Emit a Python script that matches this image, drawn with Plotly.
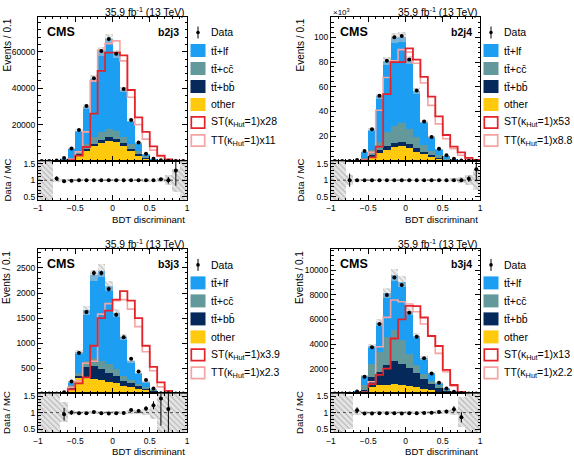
import numpy as np
import plotly.graph_objects as go

# ---------------- data ----------------
bin_edges = [-1.0, -0.9, -0.8, -0.7, -0.6, -0.5, -0.4, -0.3, -0.2, -0.1, 0.0,
             0.1, 0.2, 0.3, 0.4, 0.5, 0.6, 0.7, 0.8, 0.9, 1.0]
x_tick_vals = [-1, -0.5, 0, 0.5, 1]
x_tick_text = ["\u22121", "\u22120.5", "0", "0.5", "1"]
ratio_tick_vals = [0.5, 1, 1.5]
ratio_tick_text = ["0.5", "1", "1.5"]

categories = ["b2j3", "b2j4", "b3j3", "b3j4"]
st_scale = ["28", "53", "3.9", "13"]
tt_scale = ["11", "8.8", "2.3", "2.2"]

# b2j3
b2j3_data = [0, 0, 300, 1600, 6800, 17000, 30200, 45500, 60500, 67000, 59000, 39500, 22500, 10200, 4000, 1300, 420, 100, 8, 0]
b2j3_other = [0, 0, 20, 400, 1400, 3700, 5900, 8300, 9900, 11400, 10600, 8400, 5500, 3500, 1800, 700, 250, 70, 5, 0]
b2j3_bb = [0, 0, 5, 50, 200, 500, 900, 1300, 1700, 1900, 1900, 1600, 1100, 700, 350, 120, 40, 10, 0.5, 0]
b2j3_cc = [0, 0, 15, 150, 600, 1700, 2700, 3600, 4700, 4500, 4000, 3500, 3000, 1700, 1000, 250, 60, 10, 0.5, 0]
b2j3_lf = [0, 0, 245, 1050, 4700, 11100, 20700, 32300, 44200, 49500, 42500, 26000, 12900, 4300, 850, 230, 60, 10, 0.2, 0]
b2j3_st = [0, 0, 0, 0, 500, 3000, 7700, 26000, 49500, 59500, 59500, 58000, 39000, 24000, 16000, 8000, 3000, 900, 200, 0]
b2j3_tt = [0, 0, 0, 0, 1000, 5000, 16000, 44000, 61000, 64500, 66000, 55000, 35000, 20000, 12000, 6000, 2500, 700, 100, 0]
b2j3_unc = [9, 9, 0.06, 0.05, 0.04, 0.04, 0.04, 0.04, 0.04, 0.04, 0.04, 0.04, 0.04, 0.04, 0.05, 0.05, 0.07, 0.15, 0.35, 9]

# b2j4
b2j4_data = [0, 0, 25, 800, 8000, 25700, 52700, 81000, 100000, 101000, 82000, 57000, 32000, 19500, 10000, 4600, 1800, 500, 125, 16]
b2j4_other = [0, 0, 3, 150, 1900, 4000, 6800, 9500, 11400, 12200, 10800, 7800, 5700, 3800, 2200, 1100, 500, 200, 60, 8]
b2j4_bb = [0, 0, 1, 30, 300, 1400, 2100, 2700, 3200, 3200, 3500, 3000, 1900, 1100, 800, 350, 150, 50, 15, 1]
b2j4_cc = [0, 0, 4, 100, 1000, 4100, 7100, 11300, 13800, 15600, 12200, 9200, 5900, 3700, 1900, 950, 250, 80, 20, 1]
b2j4_lf = [0, 0, 17, 520, 4800, 16200, 36700, 57500, 71600, 70000, 55500, 37000, 18500, 10900, 5100, 2200, 900, 170, 25, 2]
b2j4_st = [0, 0, 0, 0, 500, 3000, 11600, 54000, 80000, 80000, 91000, 82000, 68000, 52000, 36000, 21000, 11600, 7000, 2500, 800]
b2j4_tt = [0, 0, 0, 0, 1000, 7000, 41000, 67500, 81000, 90000, 88000, 79000, 63000, 45000, 30000, 18000, 10000, 4600, 1300, 0]
b2j4_unc = [9, 9, 0.15, 0.05, 0.04, 0.04, 0.04, 0.04, 0.04, 0.04, 0.04, 0.04, 0.04, 0.04, 0.04, 0.05, 0.06, 0.1, 0.15, 0.3]

# b3j3
b3j3_data = [0, 0, 0, 25, 235, 807, 1622, 2400, 2400, 2080, 1570, 1120, 690, 435, 268, 100, 3, 1, 0, 0]
b3j3_other = [0, 0, 0, 10, 100, 320, 320, 285, 265, 232, 200, 153, 120, 86, 60, 35, 1.5, 0.7, 0, 0]
b3j3_bb = [0, 0, 0, 2, 20, 30, 200, 266, 220, 186, 139, 99, 80, 67, 46, 25, 0.3, 0.1, 0, 0]
b3j3_cc = [0, 0, 0, 4, 40, 68, 132, 166, 165, 180, 146, 100, 66, 33, 27, 10, 0.2, 0.05, 0, 0]
b3j3_lf = [0, 0, 0, 10.3, 75, 405, 1003, 1636, 1799, 1546, 1117, 779, 373, 228, 106, 12, 0.1, 0.05, 0, 0]
b3j3_st = [0, 0, 0, 0, 80, 200, 320, 950, 1500, 1650, 1870, 2040, 1850, 1500, 950, 530, 220, 50, 0, 0]
b3j3_tt = [0, 0, 0, 0, 120, 250, 600, 640, 1580, 1790, 1850, 1870, 1680, 1330, 830, 450, 130, 20, 0, 0]
b3j3_unc = [9, 9, 9, 0.3, 0.08, 0.05, 0.05, 0.05, 0.05, 0.05, 0.05, 0.05, 0.06, 0.07, 0.1, 0.2, 0.6, 9, 9, 9]

# b3j4
b3j4_data = [0, 0, 0, 150, 1350, 3730, 5620, 7970, 9400, 8780, 6540, 4600, 2840, 1620, 865, 405, 140, 30, 0, 0]
b3j4_other = [0, 0, 0, 20, 160, 540, 650, 700, 730, 700, 620, 490, 380, 270, 160, 100, 40, 10, 0, 0]
b3j4_bb = [0, 0, 0, 20, 160, 810, 1100, 1600, 1890, 1730, 1460, 1190, 810, 490, 270, 140, 40, 8, 0, 0]
b3j4_cc = [0, 0, 0, 30, 355, 1080, 1630, 2290, 2520, 1890, 1110, 620, 380, 270, 220, 110, 30, 7, 0, 0]
b3j4_lf = [0, 0, 0, 70, 717, 1415, 2355, 3543, 4452, 4732, 3483, 2394, 1299, 593, 198, 43, 17, 10, 0, 0]
b3j4_st = [0, 0, 0, 0, 80, 750, 1500, 2000, 4450, 6000, 7100, 7080, 6150, 4650, 3840, 1900, 680, 130, 0, 0]
b3j4_tt = [0, 0, 0, 0, 80, 950, 3780, 6160, 7570, 7430, 7240, 6620, 5620, 4650, 3240, 1750, 600, 130, 0, 0]
b3j4_unc = [9, 9, 0.5, 0.08, 0.05, 0.05, 0.05, 0.05, 0.05, 0.05, 0.05, 0.05, 0.05, 0.05, 0.06, 0.07, 0.1, 0.45, 9, 9]

y_tick_vals = {
    "b2j3": [20000, 40000, 60000],
    "b2j4": [20000, 40000, 60000, 80000, 100000],
    "b3j3": [500, 1000, 1500, 2000, 2500],
    "b3j4": [2000, 4000, 6000, 8000, 10000],
}
y_tick_text = {
    "b2j3": ["20000", "40000", "60000"],
    "b2j4": ["20", "40", "60", "80", "100"],
    "b3j3": ["500", "1000", "1500", "2000", "2500"],
    "b3j4": ["2000", "4000", "6000", "8000", "10000"],
}

# ---------------- styling / geometry ----------------
W, H = 574, 461
FONT = "Liberation Sans, Arial, Helvetica, sans-serif"
C_LF = "#1c9ef2"
C_CC = "#63999b"
C_BB = "#05295b"
C_OT = "#ffc90e"
C_ST = "#e3242b"
C_TT = "#f6a3a3"

COLS = [(38.0, 187.0), (331.0, 480.0)]
ROWS = [(16.5, 161.0, 200.0), (248.9, 393.4, 432.4)]
YMAX = {"b2j3": 79400, "b2j4": 116800, "b3j3": 2880, "b3j4": 11710}
YMINOR = {"b2j3": 4000, "b2j4": 4000, "b3j3": 100, "b3j4": 400}

panels = {
    "b2j3": (b2j3_data, b2j3_other, b2j3_bb, b2j3_cc, b2j3_lf, b2j3_st, b2j3_tt, b2j3_unc),
    "b2j4": (b2j4_data, b2j4_other, b2j4_bb, b2j4_cc, b2j4_lf, b2j4_st, b2j4_tt, b2j4_unc),
    "b3j3": (b3j3_data, b3j3_other, b3j3_bb, b3j3_cc, b3j3_lf, b3j3_st, b3j3_tt, b3j3_unc),
    "b3j4": (b3j4_data, b3j4_other, b3j4_bb, b3j4_cc, b3j4_lf, b3j4_st, b3j4_tt, b3j4_unc),
}


def PX(px):
    return px / W


def PY(py):
    return 1 - py / H


edges = np.array(bin_edges)
centers = (edges[:-1] + edges[1:]) / 2

fig = go.Figure()
annotations = []
shapes = []
axes = {}

for i, cat in enumerate(categories):
    data, oth, bb, cc, lf, st, tt, unc = [np.array(a, dtype=float) for a in panels[cat]]
    col, row = i % 2, i // 2
    xl, xr = COLS[col]
    yt, ym, yb = ROWS[row]
    nm, nr = 2 * i + 1, 2 * i + 2
    xm = "x" if nm == 1 else f"x{nm}"
    ymn = "y" if nm == 1 else f"y{nm}"
    xr_name, yr_name = f"x{nr}", f"y{nr}"

    # stacked MC
    cum = np.zeros(20)
    for comp, color in [(oth, C_OT), (bb, C_BB), (cc, C_CC), (lf, C_LF)]:
        fig.add_trace(go.Bar(x=centers, y=comp, base=cum.copy(), width=0.1,
                             marker=dict(color=color, line=dict(width=0)),
                             xaxis=xm, yaxis=ymn, showlegend=False, hoverinfo="skip"))
        cum = cum + comp
    total = cum
    u_main = np.minimum(unc, 1.0)
    lo = np.maximum(total * (1 - u_main), 0)
    hi = total * (1 + u_main)
    fig.add_trace(go.Bar(x=centers, y=hi - lo, base=lo, width=0.1,
                         marker=dict(color="rgba(215,215,215,0.45)", line=dict(width=0),
                                     pattern=dict(shape="\\", fgcolor="#9a9a9a", size=4,
                                                  solidity=0.3, fillmode="overlay")),
                         xaxis=xm, yaxis=ymn, showlegend=False, hoverinfo="skip"))
    # signals
    for sig, color, wdt in [(tt, C_TT, 1.6), (st, C_ST, 1.8)]:
        fig.add_trace(go.Scatter(x=edges, y=np.append(sig, sig[-1]), mode="lines",
                                 line=dict(shape="hv", color=color, width=wdt),
                                 xaxis=xm, yaxis=ymn, showlegend=False, hoverinfo="skip"))
    # data
    fig.add_trace(go.Scatter(x=centers, y=data, mode="markers",
                             marker=dict(color="black", size=4),
                             error_y=dict(type="data", array=np.sqrt(data), color="black",
                                          thickness=1, width=0),
                             xaxis=xm, yaxis=ymn, showlegend=False, hoverinfo="skip"))

    # ratio band
    rlo = np.clip(1 - unc, 0.3, 1.7)
    rhi = np.clip(1 + unc, 0.3, 1.7)
    fig.add_trace(go.Bar(x=centers, y=rhi - rlo, base=rlo, width=0.1,
                         marker=dict(color="rgba(220,220,220,0.7)", line=dict(width=0),
                                     pattern=dict(shape="\\", fgcolor="#8a8a8a", size=4,
                                                  solidity=0.3, fillmode="overlay")),
                         xaxis=xr_name, yaxis=yr_name, showlegend=False, hoverinfo="skip"))
    fig.add_trace(go.Scatter(x=[-1, 1], y=[1, 1], mode="lines",
                             line=dict(color="#555555", width=1, dash="dot"),
                             xaxis=xr_name, yaxis=yr_name, showlegend=False, hoverinfo="skip"))
    with np.errstate(divide="ignore", invalid="ignore"):
        ok = (total > 0) & (data > 0)
        ratio = np.where(ok, data / np.where(total > 0, total, 1), np.nan)
        rerr = np.where(ok, np.sqrt(data) / np.where(total > 0, total, 1), np.nan)
    fig.add_trace(go.Scatter(x=centers, y=ratio, mode="markers",
                             marker=dict(color="black", size=4),
                             error_y=dict(type="data", array=rerr, color="black",
                                          thickness=1, width=0),
                             xaxis=xr_name, yaxis=yr_name, showlegend=False, hoverinfo="skip"))

    common = dict(showline=True, linecolor="black", linewidth=1, mirror="ticks",
                  ticks="inside", ticklen=5, tickcolor="black", showgrid=False,
                  zeroline=False, tickfont=dict(family=FONT, size=8.5, color="black"))
    xdom = [PX(xl), PX(xr)]
    axes["xaxis" if nm == 1 else f"xaxis{nm}"] = dict(
        domain=xdom, range=[-1, 1], anchor=ymn, showticklabels=False,
        tickvals=x_tick_vals, minor=dict(ticks="inside", ticklen=2.5, dtick=0.1, tick0=0,
                                         tickcolor="black"), **common)
    axes["yaxis" if nm == 1 else f"yaxis{nm}"] = dict(
        domain=[PY(ym), PY(yt)], range=[0, YMAX[cat]], anchor=xm,
        tickvals=y_tick_vals[cat], ticktext=y_tick_text[cat],
        minor=dict(ticks="inside", ticklen=2.5, dtick=YMINOR[cat], tick0=0, tickcolor="black"),
        **common)
    axes[f"xaxis{nr}"] = dict(
        domain=xdom, range=[-1, 1], anchor=yr_name, tickvals=x_tick_vals, ticktext=x_tick_text,
        minor=dict(ticks="inside", ticklen=2.5, dtick=0.1, tick0=0, tickcolor="black"),
        **common)
    axes[f"yaxis{nr}"] = dict(
        domain=[PY(yb), PY(ym)], range=[0.4, 1.58], anchor=xr_name,
        tickvals=ratio_tick_vals, ticktext=ratio_tick_text,
        minor=dict(ticks="inside", ticklen=2.5, dtick=0.1, tick0=0, tickcolor="black"),
        **common)

    # texts
    annotations.append(dict(x=PX(xr), y=PY(yt - 5), xref="paper", yref="paper",
                            text="35.9 fb<sup>-1</sup> (13 TeV)", showarrow=False,
                            xanchor="right", yanchor="middle",
                            font=dict(family=FONT, size=10.3, color="black")))
    annotations.append(dict(x=PX(xl + 7), y=PY(yt + 15.5), xref="paper", yref="paper",
                            text="<b>CMS</b>", showarrow=False, xanchor="left", yanchor="middle",
                            font=dict(family=FONT, size=12.5, color="black")))
    annotations.append(dict(x=PX(xr - 6), y=PY(yt + 15.5), xref="paper", yref="paper",
                            text=f"<b>{cat}</b>", showarrow=False, xanchor="right", yanchor="middle",
                            font=dict(family=FONT, size=10.5, color="black")))
    annotations.append(dict(x=PX(xl - 31), y=PY(yt + 0.5), xref="paper", yref="paper",
                            text="Events / 0.1", showarrow=False, textangle=-90,
                            xanchor="center", yanchor="top",
                            font=dict(family=FONT, size=10, color="black")))
    annotations.append(dict(x=PX(xl - 31), y=PY((ym + yb) / 2), xref="paper", yref="paper",
                            text="Data / MC", showarrow=False, textangle=-90,
                            xanchor="center", yanchor="middle",
                            font=dict(family=FONT, size=9.5, color="black")))
    annotations.append(dict(x=PX(xr), y=PY(yb + 19.5), xref="paper", yref="paper",
                            text="BDT discriminant", showarrow=False,
                            xanchor="right", yanchor="middle",
                            font=dict(family=FONT, size=9.6, color="black")))
    if cat == "b2j4":
        annotations.append(dict(x=PX(xl), y=PY(yt - 4), xref="paper", yref="paper",
                                text="\u00d710<sup>3</sup>", showarrow=False,
                                xanchor="left", yanchor="middle",
                                font=dict(family=FONT, size=8, color="black")))

    # legend (drawn manually)
    bx0, bx1, tx = xr + 3.5, xr + 18.5, xr + 21.5
    labels = ["Data", "tt\u0304+lf", "tt\u0304+cc\u0304", "tt\u0304+bb\u0304", "other",
              f"ST(\u03ba<sub>Hut</sub>=1)x{st_scale[i]}",
              f"TT(\u03ba<sub>Hut</sub>=1)x{tt_scale[i]}"]
    fills = [None, C_LF, C_CC, C_BB, C_OT, "white", "white"]
    lines = [None, None, None, None, None, C_ST, C_TT]
    for k, lab in enumerate(labels):
        cy = yt + 16 + 18 * k
        if k == 0:
            cx = (bx0 + bx1) / 2
            shapes.append(dict(type="line", xref="paper", yref="paper",
                               x0=PX(cx), x1=PX(cx), y0=PY(cy - 6), y1=PY(cy + 6),
                               line=dict(color="black", width=1)))
            shapes.append(dict(type="circle", xref="paper", yref="paper",
                               x0=PX(cx - 1.8), x1=PX(cx + 1.8), y0=PY(cy - 1.8), y1=PY(cy + 1.8),
                               fillcolor="black", line=dict(color="black", width=0)))
        else:
            if lines[k] is None:
                shapes.append(dict(type="rect", xref="paper", yref="paper",
                                   x0=PX(bx0), x1=PX(bx1), y0=PY(cy - 6.5), y1=PY(cy + 6.5),
                                   fillcolor=fills[k], line=dict(width=0)))
            else:
                shapes.append(dict(type="rect", xref="paper", yref="paper",
                                   x0=PX(bx0 + 0.8), x1=PX(bx1 - 0.8), y0=PY(cy - 5.7), y1=PY(cy + 5.7),
                                   fillcolor="white", line=dict(color=lines[k], width=1.7)))
        annotations.append(dict(x=PX(tx), y=PY(cy), xref="paper", yref="paper", text=lab,
                                showarrow=False, xanchor="left", yanchor="middle",
                                font=dict(family=FONT, size=10.5, color="black")))

fig.update_layout(
    width=W, height=H, autosize=False, template="none",
    margin=dict(l=0, r=0, t=0, b=0),
    paper_bgcolor="white", plot_bgcolor="white",
    barmode="overlay", bargap=0, showlegend=False,
    annotations=annotations, shapes=shapes,
    **axes,
)

fig.write_html("out.html", config={"displayModeBar": False},
               post_script="document.body.style.margin='0';document.body.style.padding='0';")
